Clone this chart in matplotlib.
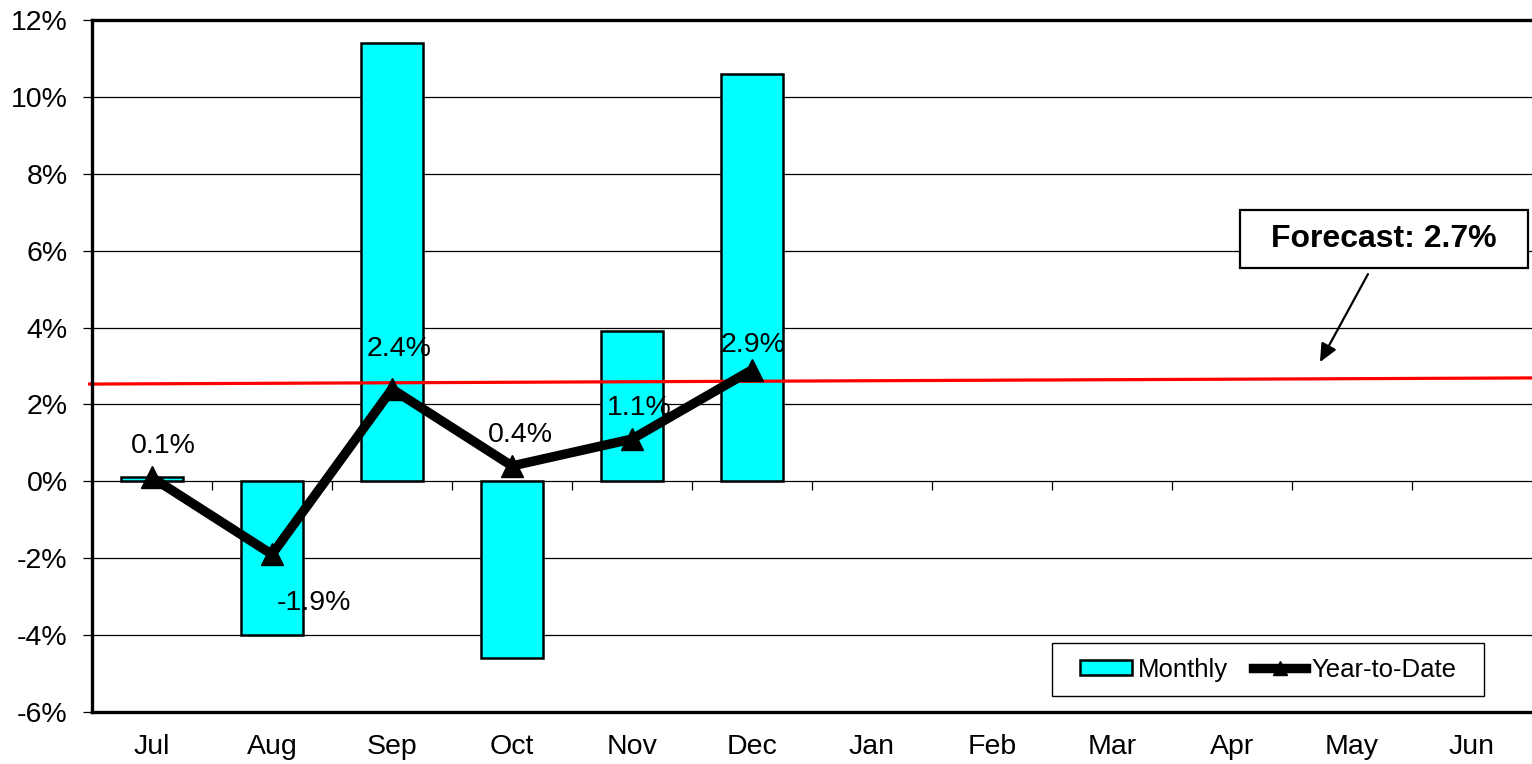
import numpy as np
import matplotlib
matplotlib.use("Agg")
import matplotlib.pyplot as plt
from matplotlib.patches import Rectangle, Patch
from matplotlib.lines import Line2D
from matplotlib.ticker import FixedLocator, FuncFormatter

plt.rcParams['font.family'] = ['Liberation Sans', 'DejaVu Sans']

# data
months = ['Jul', 'Aug', 'Sep', 'Oct', 'Nov', 'Dec',
          'Jan', 'Feb', 'Mar', 'Apr', 'May', 'Jun']
monthly = [0.1, -4.0, 11.4, -4.6, 3.9, 10.6]
ytd = [0.1, -1.9, 2.4, 0.4, 1.1, 2.9]
ytd_labels = ['0.1%', '-1.9%', '2.4%', '0.4%', '1.1%', '2.9%']
forecast_ends = [2.53, 2.69]
forecast_text = 'Forecast: 2.7%'
y_ticks = [-6, -4, -2, 0, 2, 4, 6, 8, 10, 12]

W, H = 1532, 764
fig = plt.figure(figsize=(W / 100, H / 100), dpi=100)
ax = fig.add_axes([92 / W, 52 / H, (W - 92) / W, 692 / H])

x_all = np.arange(len(months))
x_data = np.arange(len(monthly))

ax.set_xlim(-0.5, len(months) - 0.5)
ax.set_ylim(y_ticks[0], y_ticks[-1])

# grid
for v in y_ticks[1:-1]:
    ax.axhline(v, color='black', lw=0.9, zorder=1)

# bars
ax.bar(x_data, monthly, width=0.52, color='#00FFFF', edgecolor='black',
       linewidth=1.8, zorder=2)

# category ticks on the zero line
ax.vlines(x_all[:-1] + 0.5, 0, -0.22, color='black', lw=0.9, zorder=1)

# forecast line
ax.plot([-0.533, len(months) - 0.5], forecast_ends, color='#FF0000',
        lw=2.3, zorder=3, clip_on=False, solid_capstyle='butt')

# year-to-date line
ax.plot(x_data, ytd, color='black', lw=6.8, marker='^', markersize=16.5,
        zorder=4, solid_joinstyle='miter')

label_offsets = [(8, 23), (30, -35), (5, 29), (6, 22), (5, 22), (1, 18)]
for xi, yi, txt, off in zip(x_data, ytd, ytd_labels, label_offsets):
    ax.annotate(txt, (xi, yi), xytext=off, textcoords='offset points',
                ha='center', va='center', fontsize=20.5, color='black',
                zorder=5)

# forecast callout
ax.add_patch(Rectangle((9.067, 5.55), 2.4, 1.508, facecolor='white',
                       edgecolor='black', lw=1.6, zorder=5))
ax.text(10.267, 6.30, forecast_text, ha='center', va='center',
        fontsize=23, fontweight='bold', zorder=6)
ax.annotate('', xy=(9.733, 3.10), xytext=(10.133, 5.39),
            arrowprops=dict(arrowstyle='-|>,head_length=1.1,head_width=0.5',
                            color='black', lw=1.6, shrinkA=0, shrinkB=0),
            zorder=6)

# axes styling
for side in ['top', 'left', 'bottom']:
    ax.spines[side].set_linewidth(2.4)
    ax.spines[side].set_zorder(7)
ax.spines['right'].set_visible(False)

ax.yaxis.set_major_locator(FixedLocator(y_ticks))
ax.yaxis.set_major_formatter(FuncFormatter(lambda v, p: f'{v:.0f}%'))
ax.tick_params(axis='y', direction='out', length=6.5, width=0.9, pad=11,
               labelsize=20.5)
ax.set_xticks(x_all)
ax.set_xticklabels(months)
ax.tick_params(axis='x', length=0, pad=16, labelsize=20.5)

# legend with its own frame
ax.add_patch(Rectangle((0.6667, 0.0231), 0.3, 0.0766, transform=ax.transAxes,
                       facecolor='white', edgecolor='black', lw=1.0,
                       zorder=8))
handles = [Patch(facecolor='#00FFFF', edgecolor='black', lw=1.8),
           Line2D([], [], color='black', lw=6.8, marker='^', markersize=10)]
leg = ax.legend(handles, ['Monthly', 'Year-to-Date'], ncol=2,
                loc='center', bbox_to_anchor=(0.8167, 0.0614),
                fontsize=18.5, frameon=False, borderpad=0.3,
                handlelength=2.05, handleheight=0.5, handletextpad=0.2,
                columnspacing=1.0)
leg.set_zorder(9)

fig.savefig('out.png', dpi=100)
